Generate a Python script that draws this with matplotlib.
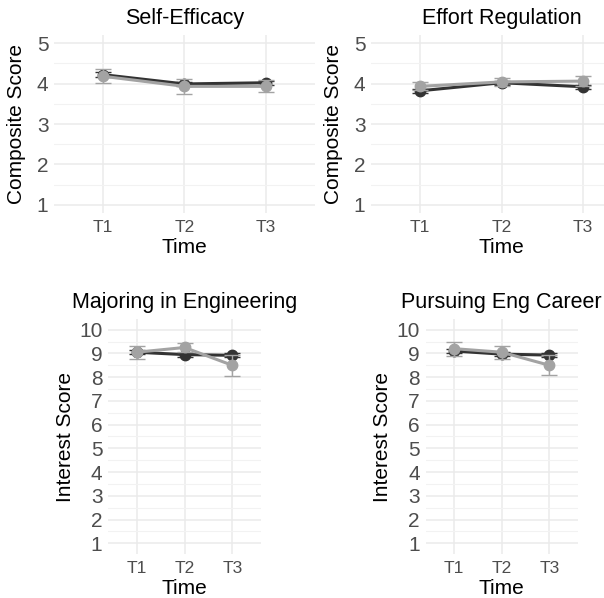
import numpy as np
import matplotlib
matplotlib.use('Agg')
import matplotlib.pyplot as plt
from matplotlib.ticker import MultipleLocator

plt.rcParams['font.family'] = ['Liberation Sans', 'DejaVu Sans']

times = ['T1', 'T2', 'T3']
titles = ['Self-Efficacy', 'Effort Regulation', 'Majoring in Engineering', 'Pursuing Eng Career']
ylabels = ['Composite Score', 'Composite Score', 'Interest Score', 'Interest Score']

# dark group means / standard errors
dark_mean = [[4.22, 3.99, 4.02], [3.82, 4.02, 3.92], [9.05, 8.95, 8.92], [9.10, 8.97, 8.93]]
dark_err = [[0.07, 0.06, 0.05], [0.05, 0.05, 0.05], [0.08, 0.08, 0.08], [0.08, 0.08, 0.08]]
# light group means / standard errors
light_mean = [[4.18, 3.93, 3.93], [3.93, 4.04, 4.06], [9.05, 9.25, 8.50], [9.20, 9.05, 8.50]]
light_err = [[0.17, 0.18, 0.15], [0.10, 0.10, 0.12], [0.28, 0.20, 0.45], [0.30, 0.28, 0.42]]

W, H = 604, 598
fig = plt.figure(figsize=(W / 100, H / 100), dpi=100)

# panel boxes in pixels: x0, x1, ytop, ybottom
boxes = [(54, 315, 35, 213), (371, 632, 35, 213), (108, 261, 319, 554), (425.5, 578, 319, 554)]
ypads = [8, 8, 3, 3]

dark_c = '#333333'
light_c = '#A3A3A3'

for i in range(4):
    x0, x1, yt, yb = boxes[i]
    ax = fig.add_axes([x0 / W, 1 - yb / H, (x1 - x0) / W, (yb - yt) / H])
    x = np.arange(3)
    ax.errorbar(x, dark_mean[i], yerr=dark_err[i], color=dark_c, lw=2.2, marker='o',
                ms=7.5, capsize=5.5, capthick=1, elinewidth=1, zorder=3)
    ax.errorbar(x, light_mean[i], yerr=light_err[i], color=light_c, lw=2.2, marker='o',
                ms=7.5, capsize=5.5, capthick=1, elinewidth=1, zorder=4)
    ax.set_xlim(-0.6, 2.6)
    ax.set_xticks(x)
    ax.set_xticklabels(times)
    if i < 2:
        ax.set_ylim(0.8, 5.2)
        ax.set_yticks([1, 2, 3, 4, 5])
    else:
        ax.set_ylim(0.55, 10.45)
        ax.set_yticks(range(1, 11))
    ax.yaxis.set_minor_locator(MultipleLocator(0.5))
    for s in ax.spines.values():
        s.set_visible(False)
    ax.grid(True, which='major', color='#EBEBEB', lw=1.1)
    ax.grid(True, which='minor', axis='y', color='#F2F2F2', lw=0.8)
    ax.set_axisbelow(True)
    ax.tick_params(which='both', length=0)
    ax.tick_params(axis='y', labelsize=15, labelcolor='#4D4D4D', pad=4)
    ax.tick_params(axis='x', labelsize=12.5, labelcolor='#4D4D4D', pad=5)
    ax.set_title(titles[i], fontsize=15.5, pad=8)
    ax.set_xlabel('Time', fontsize=15, labelpad=2)
    ax.set_ylabel(ylabels[i], fontsize=15, labelpad=ypads[i])

fig.savefig('out.png', dpi=100)
